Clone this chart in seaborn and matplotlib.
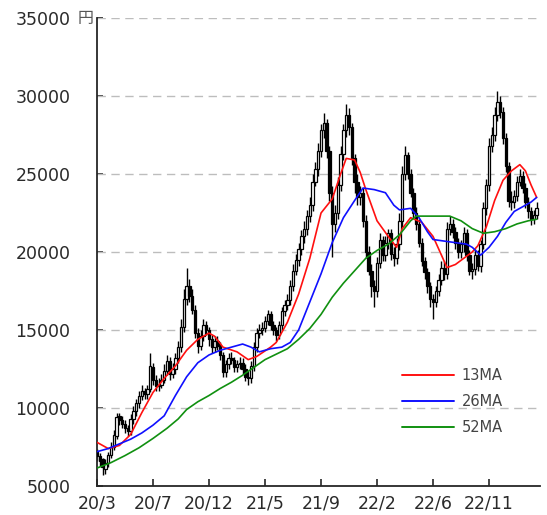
import numpy as np
import pandas as pd
import matplotlib
matplotlib.use("Agg")
import matplotlib.pyplot as plt
import seaborn as sns

# weekly candles, 2020/3 .. 2023/3 (yen)
opens = [7200, 6900, 6700, 6100, 6500, 7000, 7500, 8200, 9500, 9200,
         9000, 8700, 8500, 9300, 9800, 10300, 10800, 11100, 10900, 11200,
         12600, 11800, 11400, 11500, 11800, 12400, 13000, 12200, 12500, 13200,
         13900, 15200, 17000, 17800, 17200, 16300, 14800, 14000, 14600, 15300,
         15000, 14400, 13900, 14300, 14000, 13400, 12300, 12800, 13200, 13100,
         12600, 12800, 12900, 12500, 12000, 11900, 12700, 13900, 14800, 15000,
         15100, 15600, 16000, 15300, 15000, 14700, 15300, 16200, 16600, 16900,
         17800, 18800, 19500, 20200, 21000, 21500, 22300, 23000, 24500, 25300,
         26500, 27800, 28300, 26500, 23800, 21800, 22500, 24300, 26300, 27800,
         28800, 28000, 26000, 24500, 23500, 23800, 22000, 20000, 18800, 17800,
         17500, 19300, 20800, 19800, 20600, 21200, 19900, 19600, 20500, 22000,
         25000, 26200, 25000, 23800, 22500, 21800, 20600, 19400, 18700, 17800,
         17000, 16800, 17500, 18200, 19000, 18600, 21500, 21800, 21300, 20600,
         20000, 20500, 21200, 19800, 18800, 18900, 19800, 19100, 20500, 22800,
         24300, 26800, 27500, 28800, 29600, 29000, 27300, 25500, 23300, 23200,
         23600, 24500, 24900, 24100, 23200, 22600, 22100, 22400]
highs = [7400, 7100, 6800, 6700, 7200, 7800, 8600, 9700, 9700, 9500,
         9200, 8900, 9600, 10100, 10600, 11100, 11500, 11300, 11500, 13500,
         12900, 12100, 11900, 12200, 12800, 13400, 13300, 12900, 13500, 14300,
         15700, 17600, 19000, 18300, 17600, 16600, 15100, 15000, 15700, 15600,
         15200, 14700, 14600, 14600, 14200, 13600, 13100, 13500, 13600, 13300,
         13100, 13300, 13200, 12800, 12400, 13000, 14200, 15100, 15400, 15500,
         15900, 16300, 16200, 15600, 15200, 15600, 16500, 16900, 17300, 18200,
         19200, 19900, 20600, 21400, 22000, 22700, 23500, 25000, 25800, 27000,
         28200, 28900, 28500, 26800, 24200, 23000, 24800, 26800, 28200, 29500,
         29200, 28300, 26300, 25000, 24200, 24100, 22400, 20400, 19200, 18200,
         19700, 21200, 21000, 21000, 21500, 21500, 20300, 20900, 22500, 25500,
         26800, 26400, 25300, 24100, 22900, 22100, 20900, 19700, 19000, 18100,
         17300, 17800, 18600, 19400, 19400, 21900, 22300, 22100, 21600, 20900,
         20800, 21600, 21500, 20100, 19300, 20200, 20100, 20800, 23200, 24700,
         27300, 28000, 29300, 30300, 30000, 29300, 27600, 25800, 23900, 24000,
         24900, 25300, 25200, 24400, 23500, 22900, 22700, 23200]
lows = [6600, 6300, 5700, 5800, 6200, 6800, 7300, 8000, 8900, 8700,
        8400, 8200, 8300, 9000, 9500, 10000, 10500, 10600, 10600, 11000,
        11500, 11100, 11100, 11300, 11600, 12100, 11800, 11900, 12200, 12900,
        13600, 14900, 16600, 16800, 16000, 14500, 13500, 13700, 14300, 14700,
        14000, 13500, 13600, 13700, 13100, 12000, 12000, 12500, 12800, 12300,
        12300, 12500, 12200, 11700, 11500, 11600, 12400, 13600, 14500, 14700,
        14900, 15300, 15000, 14700, 14300, 14400, 15000, 15900, 16300, 16600,
        17500, 18500, 19100, 19800, 20600, 21100, 21900, 22600, 24200, 24900,
        26100, 27300, 26000, 23300, 19700, 21300, 22100, 23900, 25900, 27400,
        27500, 25600, 23800, 23000, 23000, 21600, 19600, 18500, 17100, 16500,
        17100, 19000, 19400, 19400, 20200, 19500, 19100, 19200, 20100, 21600,
        24600, 24700, 23500, 22200, 21400, 20300, 19100, 18300, 17400, 16500,
        15700, 16500, 17200, 17900, 18200, 18300, 21100, 20900, 20200, 19600,
        19600, 20000, 19400, 18500, 18300, 18500, 18800, 18700, 20200, 22400,
        23900, 26400, 27100, 28400, 28600, 26900, 25100, 22900, 22700, 22800,
        23300, 24200, 23800, 22800, 22200, 21700, 21800, 22100]
closes = [6900, 6600, 6200, 6500, 7000, 7500, 8300, 9400, 9200, 9000,
          8700, 8500, 9300, 9800, 10300, 10800, 11100, 10900, 11200, 12700,
          11800, 11400, 11500, 11800, 12400, 13000, 12200, 12500, 13200, 13900,
          15200, 17000, 17800, 17200, 16300, 14800, 14000, 14600, 15300, 15000,
          14400, 13900, 14300, 14000, 13400, 12300, 12800, 13200, 13100, 12600,
          12800, 12900, 12500, 12000, 11900, 12700, 13900, 14800, 15000, 15100,
          15600, 16000, 15300, 15000, 14700, 15300, 16200, 16600, 16900, 17800,
          18800, 19500, 20200, 21000, 21500, 22300, 23000, 24500, 25300, 26500,
          27800, 28300, 26500, 23800, 21800, 22500, 24300, 26300, 27800, 28800,
          28000, 26000, 24500, 23500, 23800, 22000, 20000, 18800, 17800, 17500,
          19300, 20800, 19800, 20600, 21200, 19900, 19600, 20500, 22000, 25000,
          26200, 25000, 23800, 22500, 21800, 20600, 19400, 18700, 17800, 17000,
          16800, 17500, 18200, 19000, 18600, 21500, 21800, 21300, 20600, 20000,
          20500, 21200, 19800, 18800, 18900, 19800, 19100, 20500, 22800, 24300,
          26800, 27500, 28800, 29600, 29000, 27300, 25500, 23300, 23200, 23600,
          24500, 24900, 24100, 23200, 22600, 22100, 22400, 22800]

# moving averages (week index, value)
ma13_wk = [0, 4, 8, 12, 16, 20, 24, 28, 32, 36, 40, 42, 45, 50, 54, 57, 62, 64, 68,
           72, 76, 80, 84, 87, 89, 92, 94, 96, 100, 104, 107, 109, 112, 116, 120,
           123, 125, 128, 131, 134, 136, 139, 142, 145, 148, 151, 153, 155, 157]
ma13 = [7800, 7400, 7600, 8300, 9700, 11000, 11900, 12700, 13700, 14400, 14800, 14600,
        13900, 13600, 13100, 13300, 13900, 14200, 15500, 17300, 19600, 22500, 23400,
        25000, 26000, 25900, 25100, 24000, 22000, 21000, 20300, 21500, 22200, 21900,
        21000, 19800, 19000, 19200, 19600, 20000, 20400, 21600, 23300, 24600, 25200,
        25600, 25200, 24300, 23500]
ma26_wk = [0, 4, 8, 12, 16, 20, 24, 28, 32, 36, 40, 44, 48, 52, 55, 58, 62, 66, 69,
           72, 76, 80, 84, 88, 92, 95, 99, 103, 106, 108, 112, 115, 118, 120, 124,
           128, 132, 134, 137, 140, 143, 146, 149, 152, 155, 157]
ma26 = [7200, 7400, 7700, 8000, 8400, 8900, 9500, 10800, 12000, 12900, 13400, 13700,
        13900, 14100, 13900, 13600, 13800, 13900, 14200, 15000, 16800, 18600, 20600,
        22200, 23300, 24100, 24000, 23800, 23000, 22700, 22800, 22200, 21300, 20800,
        20700, 20600, 20500, 20300, 19800, 20300, 21000, 21900, 22600, 22900, 23200,
        23500]
ma52_wk = [0, 5, 10, 15, 20, 25, 29, 32, 36, 40, 44, 48, 52, 56, 60, 64, 68, 72, 76,
           80, 84, 88, 92, 96, 100, 104, 108, 112, 114, 120, 126, 130, 134, 138, 142,
           146, 150, 154, 157]
ma52 = [6150, 6500, 6950, 7450, 8050, 8700, 9300, 9900, 10400, 10800, 11250, 11650,
        12100, 12600, 13100, 13450, 13800, 14400, 15100, 16000, 17100, 18000, 18800,
        19600, 20100, 20500, 21100, 22000, 22300, 22300, 22300, 22000, 21500, 21200,
        21300, 21500, 21800, 22000, 22100]

tick_pos = [0, 20, 40, 60, 80, 100, 120, 140]
tick_labels = ["20/3", "20/7", "20/12", "21/5", "21/9", "22/2", "22/6", "22/11"]

sns.set_style("ticks")
plt.rcParams['font.family'] = ['DejaVu Sans']

fig = plt.figure(figsize=(5.47, 5.15), dpi=100)
ax = fig.add_axes([97 / 547, 29 / 515, 443 / 547, 468 / 515])

o = np.array(opens)
h = np.array(highs)
l = np.array(lows)
c = np.array(closes)
wk = np.arange(len(c))

# candles
ax.vlines(wk, l, h, color="black", lw=1.0, zorder=2)
up = c >= o
ax.bar(wk[up], (c - o)[up], bottom=o[up], width=0.9, color="white",
       edgecolor="black", linewidth=0.9, zorder=3)
ax.bar(wk[~up], (o - c)[~up], bottom=c[~up], width=0.9, color="black",
       edgecolor="black", linewidth=0.9, zorder=3)

ma = pd.concat([
    pd.DataFrame({"wk": ma13_wk, "v": ma13, "s": "13MA"}),
    pd.DataFrame({"wk": ma26_wk, "v": ma26, "s": "26MA"}),
    pd.DataFrame({"wk": ma52_wk, "v": ma52, "s": "52MA"}),
])
sns.lineplot(data=ma, x="wk", y="v", hue="s", ax=ax,
             palette={"13MA": "#ff1010", "26MA": "#1010ff", "52MA": "#109010"},
             linewidth=1.2, zorder=4)

ax.set_xlim(0, 158.2)
ax.set_ylim(5000, 35000)
ax.set_yticks(range(5000, 35001, 5000))
ax.set_xticks(tick_pos)
ax.set_xticklabels(tick_labels)
ax.set_xlabel("")
ax.set_ylabel("")
ax.tick_params(axis="y", direction="in", length=4, width=1.2, pad=19,
               labelsize=12.5, labelcolor="#2a2a2a")
ax.tick_params(axis="x", direction="in", length=5, width=1.2, pad=6,
               labelsize=12.5, labelcolor="#2a2a2a")
for yv in range(10000, 35001, 5000):
    ax.axhline(yv, color="#bdbdbd", lw=1.0, ls=(0, (6, 4)), zorder=1)
sns.despine(ax=ax)
ax.spines["left"].set_linewidth(1.3)
ax.spines["bottom"].set_linewidth(1.3)

fig.text(86 / 547, 1 - 19 / 515, "円", family=["Noto Sans CJK JP", "DejaVu Sans"],
         fontsize=11.5, color="#555555", ha="center", va="center")

leg = ax.legend(loc="upper left", bbox_to_anchor=(0.675, 0.265), frameon=False,
                fontsize=10.5, handlelength=3.6, handletextpad=0.5,
                labelspacing=0.75, borderaxespad=0)
for t in leg.get_texts():
    t.set_color("#444444")
for ln in leg.get_lines():
    ln.set_linewidth(1.4)

fig.savefig("out.png", dpi=100)
